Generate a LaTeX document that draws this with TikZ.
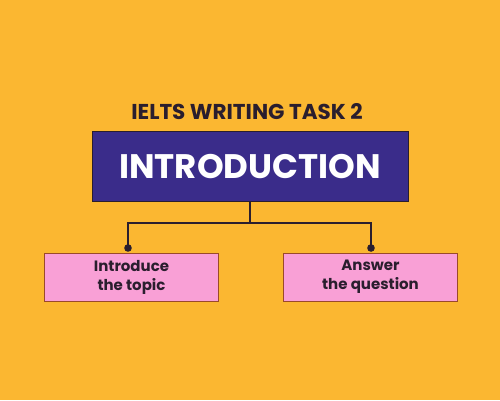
\documentclass[tikz,border=0pt]{standalone}
\usepackage{fontspec}
\setmainfont{Poppins}
\usetikzlibrary{positioning}

\definecolor{bgorange}{HTML}{FBB731}
\definecolor{boxblue}{HTML}{3A2C8A}
\definecolor{boxpink}{HTML}{F9A0D6}
\definecolor{pinkedge}{HTML}{9A4A2A}
\definecolor{inkdark}{HTML}{2A1E2E}

\tikzset{
  mainbox/.style={draw=inkdark, line width=1pt, fill=boxblue, text=white,
    minimum width=316pt, minimum height=70pt, font=\fontsize{34}{34}\selectfont\bfseries},
  subbox/.style={draw=pinkedge, line width=0.8pt, fill=boxpink, text=inkdark,
    minimum width=174pt, minimum height=48pt, align=center,
    font=\fontsize{15}{19}\selectfont\bfseries},
  link/.style={draw=inkdark, line width=2.6pt},
  knob/.style={fill=inkdark}
}

\begin{document}
\begin{tikzpicture}[x=1pt, y=-1pt]

% Background
\fill[bgorange] (0,0) rectangle (500,400);
\useasboundingbox (0,0) rectangle (500,400);

% Title and main box
\node[text=inkdark, font=\fontsize{21.5}{21.5}\selectfont\bfseries] (title) at (247,112) {IELTS WRITING TASK 2};
\node[mainbox] (intro) at (250,166.5) {INTRODUCTION};

% Sub boxes
\node[subbox] (topic) at (131.5,277) {Introduce\\the topic};
\node[subbox] (answer) at (370.5,277) {Answer\\the question};

% Connectors
\coordinate (split) at (250,223);
\coordinate (leftend) at (128,248);
\coordinate (rightend) at (371,248);
\draw[link] (intro.south) -- (split);
\draw[link, line cap=round] (leftend) |- (split) -| (rightend);
\fill[knob] (leftend) circle (3.8);
\fill[knob] (rightend) circle (3.8);

\end{tikzpicture}
\end{document}
